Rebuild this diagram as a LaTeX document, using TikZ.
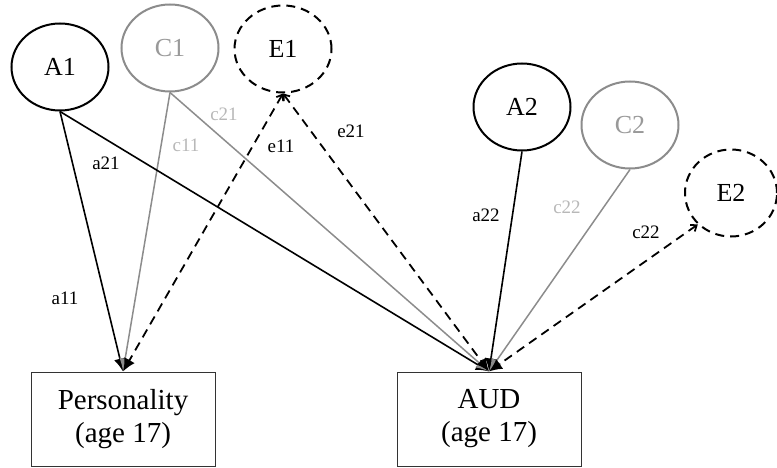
\documentclass[tikz,border=0pt]{standalone}
\usepackage{fontspec}
\setmainfont{Liberation Serif}
\usetikzlibrary{arrows.meta,shapes.geometric}

\begin{document}
\begin{tikzpicture}[
    x=1pt, y=-1pt,
    latent/.style={
        draw,
        ellipse,
        line width=2pt,
        inner sep=0pt,
        minimum width=97pt,
        minimum height=87pt,
        font=\fontsize{26}{30}\selectfont
    },
    shared/.style={latent, draw=black!45, text=black!40},
    unique/.style={latent, dash pattern=on 9pt off 6pt},
    observed/.style={
        draw=black!80,
        rectangle,
        align=center,
        line width=1pt,
        minimum width=184pt,
        minimum height=94pt,
        font=\fontsize{29}{33}\selectfont
    },
    path/.style={-{Latex[length=13pt,width=12pt]}, line width=1.6pt},
    cpath/.style={path, draw=black!45, line width=1.5pt},
    epath/.style={{Straight Barb[length=5pt,width=8pt]}-{Latex[length=13pt,width=12pt]},
        line width=1.8pt, dash pattern=on 9pt off 6pt},
    coef/.style={font=\fontsize{19}{21}\selectfont, inner sep=1pt},
    ccoef/.style={coef, text=black!28}
]
\useasboundingbox (0,0) rectangle (777,468);

% ===== Twin 1 factors =====
\node[latent] (A1) at (60,67)  {A1};
\node[shared] (C1) at (170,48) {C1};
\node[unique] (E1) at (283,49) {E1};

% ===== Twin 2 factors =====
\node[latent] (A2) at (522,107) {A2};
\node[shared] (C2) at (630,125) {C2};
\node[unique, minimum width=92pt] (E2) at (731,193) {E2};

% ===== Measures =====
\node[observed] (pers) at (123,419) {Personality\\(age 17)};
\node[observed] (aud)  at (489,419) {AUD\\(age 17)};

% ===== Paths to Personality =====
\draw[path]  (A1.south) -- (pers.north);
\draw[cpath] (C1.south) -- (pers.north);
\draw[epath] (E1.south) -- (pers.north);

% ===== Paths to AUD =====
\draw[path]  (A1.south) -- (aud.north);
\draw[cpath] (C1.south) -- (aud.north);
\draw[epath] (E1.south) -- (aud.north);
\draw[path]  (A2.south) -- (aud.north);
\draw[cpath] (C2.south) -- (aud.north);
\draw[epath] (E2.south west) -- (aud.north);

% ===== Coefficients =====
\node[coef]  (a11) at (65,298)  {a11};
\node[coef]  (a21) at (106,163) {a21};
\node[ccoef] (c11) at (186,145) {c11};
\node[ccoef] (c21) at (224,114) {c21};
\node[coef]  (e11) at (281,146) {e11};
\node[coef]  (e21) at (351,131) {e21};
\node[coef]  (a22) at (486,215) {a22};
\node[ccoef] (c22) at (567,207) {c22};
\node[coef]  (e22) at (646,232) {c22};

\end{tikzpicture}
\end{document}
